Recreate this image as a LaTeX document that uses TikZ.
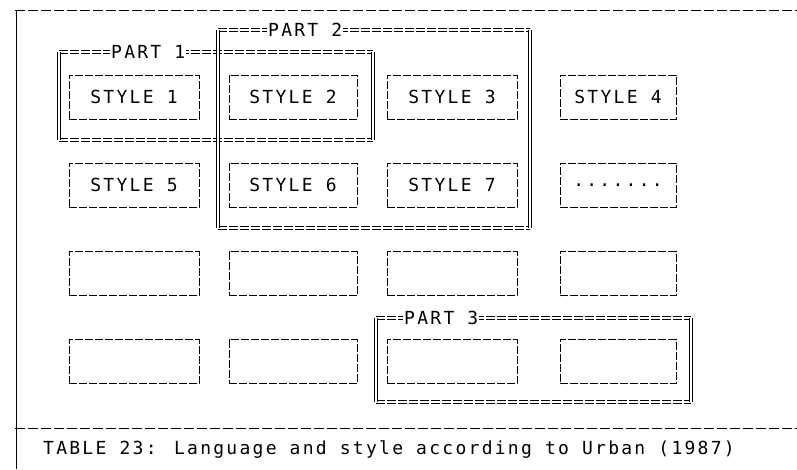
\documentclass[tikz,border=0pt]{standalone}
\usepackage{fontspec}
\newfontfamily\dotfont{DejaVu Sans Mono}[LetterSpace=12.6]
\usepackage{tikz}
\usetikzlibrary{positioning}

\begin{document}
\begin{tikzpicture}[x=1pt,y=-1pt,
  txt/.style  ={font=\fontsize{18}{21}\selectfont\dotfont,inner sep=1pt},
  cell/.style ={txt,draw,rectangle,dash pattern=on 8pt off 2pt,line width=0.6pt,
                minimum width=130pt,minimum height=44pt,inner sep=0pt,outer sep=0pt},
  part/.style ={rectangle,draw=none,inner sep=0pt,outer sep=0pt},
  eqline/.style ={double,double distance=2.4pt,line width=0.6pt,dash pattern=on 9pt off 2pt},
  barline/.style={double,double distance=2.4pt,line width=0.6pt},
  rule/.style ={line width=0.7pt,dash pattern=on 10pt off 3pt},
  plbl/.style ={txt,fill=white,anchor=west}
]
\useasboundingbox (0,0) rectangle (797,469);

%% Outer page rules
\coordinate (tl) at (15,10);  \coordinate (tr) at (797,10);
\coordinate (bl) at (15,428); \coordinate (br) at (797,428);
\coordinate (lb) at (16,469);
\draw[rule] (tl) -- (tr);
\draw[rule] (bl) -- (br);
\draw[line width=1pt] (16,10) -- (lb);

%% Grid of style cells -- 4 columns, 4 rows
\node[cell]                    (s1) at (134,97)    {STYLE 1};
\node[cell,minimum width=128pt](s2) at (293,97)    {STYLE 2};
\node[cell]                    (s3) at (452,97)    {STYLE 3};
\node[cell,minimum width=116pt](s4) at (618,97)    {STYLE 4};
\node[cell]                    (s5) at (134,185)   {STYLE 5};
\node[cell,minimum width=128pt](s6) at (293,185)   {STYLE 6};
\node[cell]                    (s7) at (452,185)   {STYLE 7};
\node[cell,minimum width=116pt](s8) at (618,185)   {.......};
\node[cell]                    (e1) at (134,273.5) {};
\node[cell,minimum width=128pt](e2) at (293,273.5) {};
\node[cell]                    (e3) at (452,273.5) {};
\node[cell,minimum width=116pt](e4) at (618,273.5) {};
\node[cell]                    (e5) at (134,361.5) {};
\node[cell,minimum width=128pt](e6) at (293,361.5) {};
\node[cell]                    (e7) at (452,361.5) {};
\node[cell,minimum width=116pt](e8) at (618,361.5) {};

%% Part frames
\node[part,minimum width=314pt,minimum height=88pt]  (p1) at (216,96)    {};
\node[part,minimum width=312pt,minimum height=198pt] (p2) at (374,129)   {};
\node[part,minimum width=315pt,minimum height=84pt]  (p3) at (533.5,360) {};
\foreach \p in {p1,p2,p3}{
  \draw[eqline]  (\p.north west) -- (\p.north east);
  \draw[eqline]  (\p.south west) -- (\p.south east);
  \draw[barline] (\p.north west) -- (\p.south west);
  \draw[barline] (\p.north east) -- (\p.south east);
}
\node[plbl] (l1) at ([xshift=51pt]p1.north west) {PART 1};
\node[plbl] (l2) at ([xshift=49pt]p2.north west) {PART 2};
\node[plbl] (l3) at ([xshift=27pt]p3.north west) {PART 3};

%% Caption
\node[txt,anchor=west] (cap) at (42,450)
  {TABLE 23: Language and style according to Urban (1987)};
\end{tikzpicture}
\end{document}
